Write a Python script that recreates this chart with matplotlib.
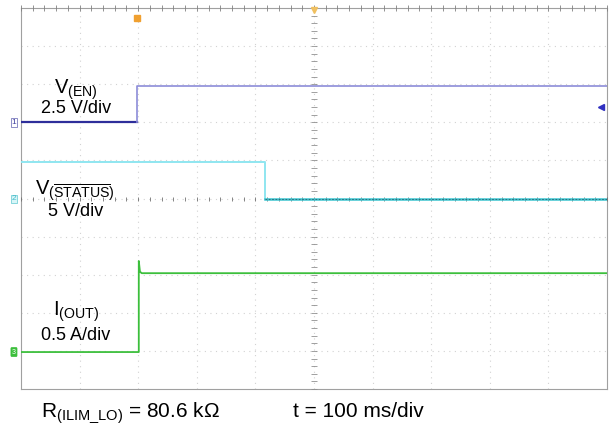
import matplotlib
matplotlib.use("Agg")
import matplotlib.pyplot as plt
import numpy as np

plt.rcParams["font.family"] = ["Liberation Sans", "DejaVu Sans"]
plt.rcParams["mathtext.fontset"] = "custom"
plt.rcParams["mathtext.rm"] = "Liberation Sans"
plt.rcParams["mathtext.it"] = "Liberation Sans:italic"
plt.rcParams["mathtext.bf"] = "Liberation Sans:bold"

# 时间轴：100 ms/div，共 10 格
t_max = 1000

# 各通道在屏幕上的位置（单位：格，从底边算起）
en_t = [0, 198, 198, 1000]
en_v = [7.0, 7.0, 7.95, 7.95]

status_t = [0, 416, 416, 1000]
status_v = [5.96, 5.96, 4.99, 4.99]

iout_t = [0, 201, 201, 203, 206, 1000]
iout_v = [0.97, 0.97, 3.36, 3.08, 3.04, 3.04]

W, H = 613, 430
fig = plt.figure(figsize=(W / 100, H / 100), dpi=100)
left, right, top, bottom = 21, 607, 8, 389
ax = fig.add_axes([left / W, 1 - bottom / H, (right - left) / W, (bottom - top) / H])
ax.set_xlim(0, t_max)
ax.set_ylim(0, 10)
ax.set_xticks([])
ax.set_yticks([])
for s in ax.spines.values():
    s.set_color("#a0a0a0")
    s.set_linewidth(0.8)

# 网格：稀疏的虚点线
for i in range(1, 10):
    ax.axvline(i * 100, color="#d2d2d2", lw=0.8, ls=(0, (1, 4)), zorder=1)
    ax.axhline(i, color="#d2d2d2", lw=0.8, ls=(0, (1, 4)), zorder=1)

# 中心轴和边框上的小刻度
minor_x = np.arange(0, t_max + 1, 20)
minor_y = np.arange(0, 10.01, 0.2)
ax.plot(minor_x, np.full_like(minor_x, 5.0, dtype=float), "|", color="#707070", ms=3, mew=0.6, zorder=3)
ax.plot(np.full_like(minor_y, 500.0), minor_y, "_", color="#909090", ms=4, mew=0.6, zorder=3)
ax.plot(minor_x, np.full_like(minor_x, 10.0, dtype=float), "|", color="#808080", ms=4, mew=0.6, zorder=3, clip_on=False)

# 通道 1：V(EN)
ax.plot(en_t[:2], en_v[:2], color="#2e2e9a", lw=1.6, zorder=4)
ax.plot(en_t[1:], en_v[1:], color="#8c8cd8", lw=1.2, zorder=4)

# 通道 2：V(STATUS)
ax.plot(status_t[:3], status_v[:3], color="#8fe6f0", lw=1.4, zorder=4)
ax.plot(status_t[2:], status_v[2:], color="#3cc4cf", lw=1.8, zorder=4)
ax.plot([416, 1000], [5.0, 5.0], color="#2a6070", lw=0.6, ls=(0, (2, 2)), zorder=5)

# 通道 3：I(OUT)
ax.plot(iout_t, iout_v, color="#3cbf3c", lw=1.3, zorder=4)

# 通道标记
ax.text(-12, en_v[0], "1", color="#4040a0", fontsize=6, ha="center", va="center", clip_on=False,
        bbox=dict(boxstyle="square,pad=0.1", fc="white", ec="#6060b0", lw=0.5))
ax.text(-12, status_v[-1], "2", color="#40b8c8", fontsize=6, ha="center", va="center", clip_on=False,
        bbox=dict(boxstyle="square,pad=0.1", fc="#d8f6f8", ec="#60c8d0", lw=0.5))
ax.text(-12, iout_v[0], "3", color="white", fontsize=5, ha="center", va="center", clip_on=False,
        bbox=dict(boxstyle="round,pad=0.15", fc="#3cbf3c", ec="#3cbf3c", lw=0.5))

# 触发标记
ax.plot([198], [9.75], marker="s", color="#f0a030", ms=4, zorder=6)
ax.plot([500], [9.95], marker="v", color="#f0c060", ms=5, zorder=6, clip_on=False)
ax.plot([990], [7.4], marker="<", color="#3030c0", ms=4, zorder=6)


def px(x, y):
    return x / W, 1 - y / H


fs = 13
fs_name = 14.5
fig.text(*px(76, 94), r"$\mathrm{V}_{\mathrm{(EN)}}$", fontsize=fs_name, ha="center", va="baseline")
fig.text(*px(76, 113), "2.5 V/div", fontsize=fs, ha="center", va="baseline")
fig.text(*px(75, 195), r"$\mathrm{V}_{\mathrm{(}\overline{\mathrm{STATUS}}\mathrm{)}}$", fontsize=fs_name,
         ha="center", va="baseline")
fig.text(*px(76, 216), "5 V/div", fontsize=fs, ha="center", va="baseline")
fig.text(*px(76, 316), r"$\mathrm{I}_{\mathrm{(OUT)}}$", fontsize=fs_name, ha="center", va="baseline")
fig.text(*px(76, 340), "0.5 A/div", fontsize=fs, ha="center", va="baseline")

fig.text(*px(41, 417), r"$\mathrm{R}_{\mathrm{(ILIM\_LO)}}$ = 80.6 kΩ", fontsize=15, ha="left", va="baseline")
fig.text(*px(293, 417), "t = 100 ms/div", fontsize=15, ha="left", va="baseline")

fig.savefig("out.png", dpi=100)
